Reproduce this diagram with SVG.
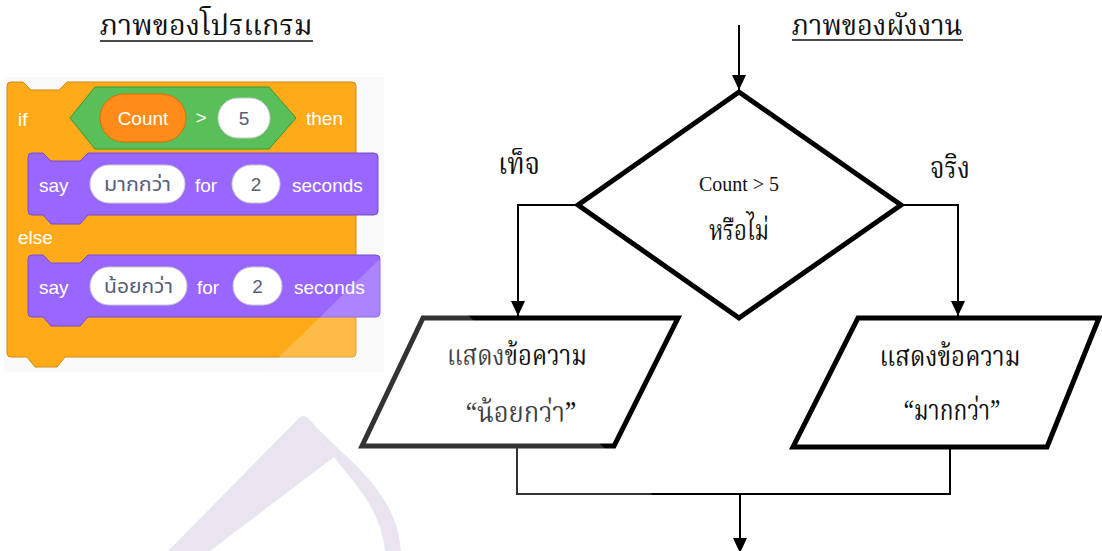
<svg xmlns="http://www.w3.org/2000/svg" width="1102" height="551" viewBox="0 0 1102 551">
  <style>
    .th { font-family: "Noto Serif Thai", "Norasi", "Noto Sans Thai", "Garuda", "Loma", serif; fill: #111; }
    .title { font-size: 28px; }
    .lbl { font-size: 30px; }
    .body { font-size: 28px; }
    .tm { font-family: "Liberation Serif", serif; fill: #111; }
    .sc { font-family: "Liberation Sans", Arial, sans-serif; font-size: 19px; fill: #fff; }
    .inp { font-family: "Liberation Sans", Arial, sans-serif; font-size: 19px; fill: #575e75; }
    .inpth { font-family: "Noto Sans Thai", "Loma", "Garuda", "Noto Sans", sans-serif; font-size: 19px; fill: #575e75; }
    .conn { fill: none; stroke: #000; stroke-width: 2; }
    .box { fill: #fff; stroke: #000; stroke-width: 5; stroke-linejoin: miter; }
    .pill { fill: #fff; stroke: #c8c8d0; stroke-width: 1; }
  </style>
  <defs>
    <marker id="arrow" viewBox="0 0 15 14" refX="15" refY="7" markerWidth="15" markerHeight="14" markerUnits="userSpaceOnUse" orient="auto">
      <path d="M0,0 L15,7 L0,14 Z" fill="#000"/>
    </marker>
  </defs>

  <rect width="1102" height="551" fill="#fff"/>

  <!-- headings -->
  <g id="heading-program">
    <text class="th title" x="206" y="35" text-anchor="middle" textLength="213" lengthAdjust="spacingAndGlyphs">ภาพของโปรแกรม</text>
    <line x1="100" y1="41" x2="313" y2="41" stroke="#111" stroke-width="1.5"/>
  </g>
  <g id="heading-flowchart">
    <text class="th title" x="877" y="35" text-anchor="middle" textLength="171" lengthAdjust="spacingAndGlyphs">ภาพของผังงาน</text>
    <line x1="792" y1="40" x2="963" y2="40" stroke="#111" stroke-width="1.5"/>
  </g>

  <!-- Scratch if/else script -->
  <g id="scratch-script">
    <rect x="4" y="77" width="380" height="295" fill="#f9f9f9"/>
    <!-- if-else C block -->
    <path d="M7,86 a4,4 0 0 1 4,-4 H23 l8,8 H59 l8,-8 H352 a4,4 0 0 1 4,4 V353 a4,4 0 0 1 -4,4 H65 l-8,10 H35 l-8,-10 H11 a4,4 0 0 1 -4,-4 Z" fill="#ffab19" stroke="#cf8b17" stroke-width="1"/>
    <text class="sc" x="18" y="126">if</text>
    <text class="sc" x="18" y="244">else</text>
    <!-- condition -->
    <polygon points="70,118 95,87 269,87 296,118 269,149 95,149" fill="#59c059" stroke="#389438" stroke-width="1"/>
    <rect x="100" y="94" width="86" height="48" rx="24" fill="#ff8c1a" stroke="#db6e00" stroke-width="1"/>
    <text class="sc" x="143" y="125" text-anchor="middle">Count</text>
    <text class="sc" x="201" y="124" text-anchor="middle">&gt;</text>
    <rect x="218" y="98" width="52" height="40" rx="20" class="pill"/>
    <text class="inp" x="244" y="125" text-anchor="middle">5</text>
    <text class="sc" x="306" y="125">then</text>

    <!-- say (then branch) -->
    <path d="M28,157 a4,4 0 0 1 4,-4 H43 l8,8 H80 l8,-8 H374 a4,4 0 0 1 4,4 V211 a4,4 0 0 1 -4,4 H88 l-8,9 H51 l-8,-9 H32 a4,4 0 0 1 -4,-4 Z" fill="#9966ff" stroke="#774dcb" stroke-width="1"/>
    <text class="sc" x="39" y="192">say</text>
    <rect x="90" y="165" width="95" height="38" rx="19" class="pill"/>
    <text class="inpth" x="137.5" y="191" text-anchor="middle" textLength="67" lengthAdjust="spacingAndGlyphs">มากกว่า</text>
    <text class="sc" x="195" y="192">for</text>
    <rect x="232" y="165" width="48" height="38" rx="19" class="pill"/>
    <text class="inp" x="256" y="191" text-anchor="middle">2</text>
    <text class="sc" x="292" y="192">seconds</text>

    <!-- say (else branch) -->
    <path d="M28,259 a4,4 0 0 1 4,-4 H43 l8,8 H80 l8,-8 H376 a4,4 0 0 1 4,4 V313 a4,4 0 0 1 -4,4 H88 l-8,9 H51 l-8,-9 H32 a4,4 0 0 1 -4,-4 Z" fill="#9966ff" stroke="#774dcb" stroke-width="1"/>
    <text class="sc" x="39" y="294">say</text>
    <rect x="90" y="267" width="97" height="38" rx="19" class="pill"/>
    <text class="inpth" x="138.5" y="293" text-anchor="middle" textLength="69" lengthAdjust="spacingAndGlyphs">น้อยกว่า</text>
    <text class="sc" x="197" y="294">for</text>
    <rect x="233" y="267" width="49" height="38" rx="19" class="pill"/>
    <text class="inp" x="257.5" y="293" text-anchor="middle">2</text>
    <text class="sc" x="294" y="294">seconds</text>
  </g>

  <!-- connectors -->
  <g id="connectors">
    <line class="conn" x1="739" y1="25" x2="739" y2="90" marker-end="url(#arrow)"/>
    <polyline class="conn" points="578,205 518,205 518,316" marker-end="url(#arrow)"/>
    <polyline class="conn" points="901,205 958,205 958,316" marker-end="url(#arrow)"/>
    <polyline class="conn" points="517,447 517,494 950,494 950,447"/>
    <line class="conn" x1="740" y1="494" x2="740" y2="553" marker-end="url(#arrow)"/>
  </g>

  <!-- decision -->
  <g id="decision">
    <polygon class="box" points="739,92 901,205 739,318 578,205"/>
    <text class="tm" x="739" y="191" font-size="20" text-anchor="middle">Count &gt; 5</text>
    <text class="th body" x="739" y="240" text-anchor="middle" textLength="60" lengthAdjust="spacingAndGlyphs">หรือไม่</text>
  </g>
  <g id="label-false">
    <text class="th lbl" x="519" y="174" text-anchor="middle" textLength="42" lengthAdjust="spacingAndGlyphs">เท็จ</text>
  </g>
  <g id="label-true">
    <text class="th lbl" x="950" y="178" text-anchor="middle" textLength="40" lengthAdjust="spacingAndGlyphs">จริง</text>
  </g>

  <!-- output: less -->
  <g id="output-less">
    <polygon class="box" points="423,318 678,318 614,446 362,446"/>
    <text class="th body" x="517" y="365" text-anchor="middle" textLength="140" lengthAdjust="spacingAndGlyphs">แสดงข้อความ</text>
    <text class="th body" x="521" y="422" text-anchor="middle" textLength="111" lengthAdjust="spacingAndGlyphs">“น้อยกว่า”</text>
  </g>

  <!-- output: more -->
  <g id="output-more">
    <polygon class="box" points="858,318 1099,318 1047,447 793,447"/>
    <text class="th body" x="950" y="366" text-anchor="middle" textLength="141" lengthAdjust="spacingAndGlyphs">แสดงข้อความ</text>
    <text class="th body" x="952" y="420" text-anchor="middle" textLength="97" lengthAdjust="spacingAndGlyphs">“มากกว่า”</text>
  </g>

  <!-- faint watermark -->
  <g id="watermark">
    <polygon points="395,244 710,551 80,551" fill="#fff" fill-opacity="0.2"/>
    <path d="M298,419 Q304,412 311,421 L334,457 L210,551 L168,551 Z" fill="#e6dfee" fill-opacity="0.85"/>
    <path d="M311,421 C345,460 396,488 401,551 L385,551 C380,505 352,482 334,457 Z" fill="#e6dfee" fill-opacity="0.85"/>
  </g>
</svg>
